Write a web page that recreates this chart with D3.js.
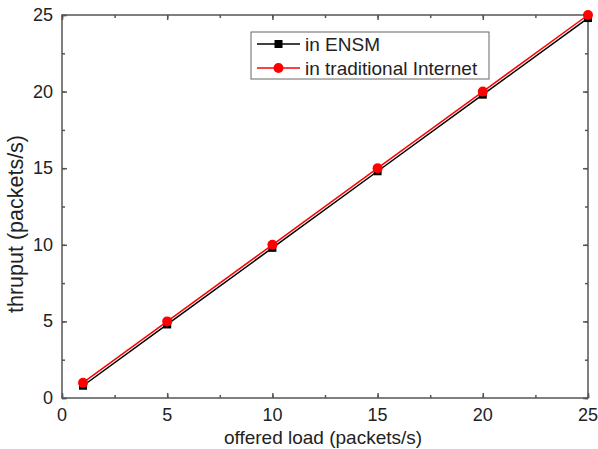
<!doctype html>
<html>
<head>
<meta charset="utf-8">
<script src="https://cdn.jsdelivr.net/npm/d3@7"></script>
<style>
  body { margin:0; background:#fff; }
  text { font-family: "Liberation Sans", Arial, sans-serif; }
</style>
</head>
<body>
<script>
// data
var load = [1, 5, 10, 15, 20, 25];
var ensm = [0.8, 4.8, 9.8, 14.8, 19.8, 24.8];
var internet = [1, 5, 10, 15, 20, 25];
var xTicks = [0, 5, 10, 15, 20, 25];
var yTicks = [0, 5, 10, 15, 20, 25];
var seriesNames = ["in ENSM", "in traditional Internet"];

var w = 598, h = 449;
var m = {left: 62, right: 10, top: 15, bottom: 51};

var svg = d3.select("body").append("svg")
  .attr("width", w).attr("height", h);

var x = d3.scaleLinear().domain([0, 25]).range([m.left, w - m.right]);
var y = d3.scaleLinear().domain([0, 25]).range([h - m.bottom, m.top]);

var axisCol = "#555";

// frame
svg.append("rect")
  .attr("x", x(0)).attr("y", y(25))
  .attr("width", x(25) - x(0)).attr("height", y(0) - y(25))
  .attr("fill", "none").attr("stroke", axisCol).attr("stroke-width", 1.5);

var minor = d3.range(0, 25.01, 2.5);

function ticks(axis, pos, tf, len) {
  var g = svg.append("g").attr("transform", tf);
  g.call(axis.tickValues(pos).tickSize(-len).tickFormat(""));
  g.select(".domain").remove();
  g.selectAll("line").attr("stroke", axisCol).attr("stroke-width", 1.5);
  return g;
}
// major/minor ticks inward on all 4 sides
[[5, xTicks], [3, minor]].forEach(function (t) {
  ticks(d3.axisBottom(x), t[1], "translate(0," + y(0) + ")", t[0]);
  ticks(d3.axisTop(x), t[1], "translate(0," + y(25) + ")", t[0]);
  ticks(d3.axisLeft(y), t[1], "translate(" + x(0) + ",0)", t[0]);
  ticks(d3.axisRight(y), t[1], "translate(" + x(25) + ",0)", t[0]);
});

// tick labels
svg.selectAll(".xl").data(xTicks).enter().append("text")
  .attr("x", function (d) { return x(d); })
  .attr("y", y(0) + 23)
  .attr("text-anchor", "middle").attr("font-size", 18).attr("fill", "#222")
  .text(function (d) { return d; });
svg.selectAll(".yl").data(yTicks).enter().append("text")
  .attr("x", x(0) - 9)
  .attr("y", function (d) { return y(d) + 6; })
  .attr("text-anchor", "end").attr("font-size", 18).attr("fill", "#222")
  .text(function (d) { return d; });

// axis titles
svg.append("text").attr("x", 323).attr("y", 444)
  .attr("text-anchor", "middle").attr("font-size", 19).attr("fill", "#222")
  .text("offered load (packets/s)");
svg.append("text")
  .attr("transform", "translate(23,224) rotate(-90)")
  .attr("text-anchor", "middle").attr("font-size", 21.5).attr("fill", "#222")
  .text("thruput (packets/s)");

var line = d3.line()
  .x(function (d) { return x(d[0]); })
  .y(function (d) { return y(d[1]); });

var ensmPts = d3.zip(load, ensm);
var netPts = d3.zip(load, internet);

svg.append("path").datum(ensmPts).attr("d", line)
  .attr("fill", "none").attr("stroke", "#000").attr("stroke-width", 1.5);
svg.selectAll(".sq").data(ensmPts).enter().append("rect")
  .attr("x", function (d) { return x(d[0]) - 4; })
  .attr("y", function (d) { return y(d[1]) - 4; })
  .attr("width", 8).attr("height", 8).attr("fill", "#000");

svg.append("path").datum(netPts).attr("d", line)
  .attr("fill", "none").attr("stroke", "#f00").attr("stroke-width", 1.5);
svg.selectAll(".ci").data(netPts).enter().append("circle")
  .attr("cx", function (d) { return x(d[0]); })
  .attr("cy", function (d) { return y(d[1]); })
  .attr("r", 5).attr("fill", "#f00");

// legend
var lg = svg.append("g");
lg.append("rect").attr("x", 251).attr("y", 32).attr("width", 238).attr("height", 47)
  .attr("fill", "#fff").attr("stroke", "#666").attr("stroke-width", 1);
var cols = ["#000", "#f00"];
seriesNames.forEach(function (n, i) {
  var yy = 44 + i * 24;
  lg.append("line").attr("x1", 257).attr("x2", 300).attr("y1", yy).attr("y2", yy)
    .attr("stroke", cols[i]).attr("stroke-width", 1.5);
  if (i == 0) {
    lg.append("rect").attr("x", 274.5).attr("y", yy - 4).attr("width", 8).attr("height", 8).attr("fill", "#000");
  } else {
    lg.append("circle").attr("cx", 278.5).attr("cy", yy).attr("r", 5).attr("fill", "#f00");
  }
  lg.append("text").attr("x", 305).attr("y", yy + 7).attr("font-size", 19).attr("fill", "#222").text(n);
});
</script>
</body>
</html>
